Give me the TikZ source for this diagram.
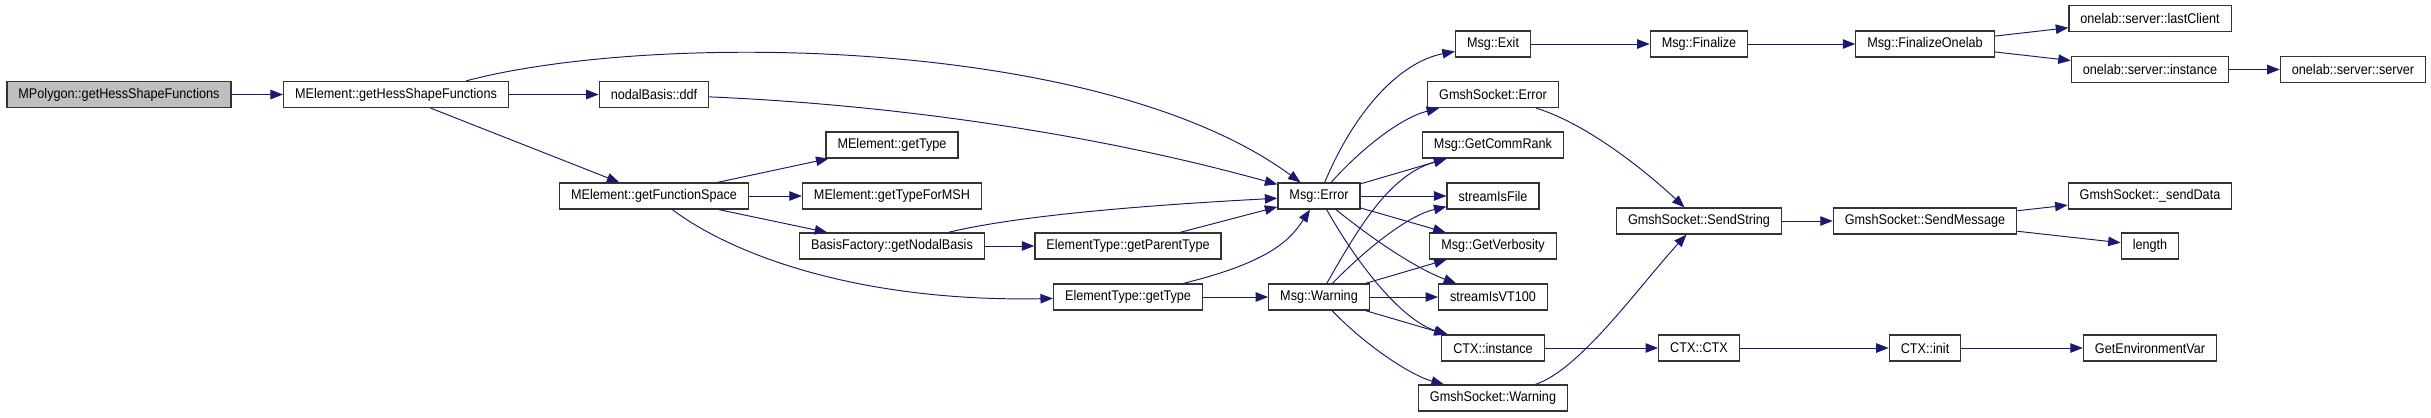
\documentclass[tikz,border=0pt]{standalone}
\usepackage{fontspec}
\newfontfamily\graphfont{Liberation Sans}[FakeStretch=0.9]
\usepackage{tikz}
\usetikzlibrary{arrows.meta}
\definecolor{edgeblue}{HTML}{191970}
\definecolor{rootgray}{HTML}{BFBFBF}

\begin{document}
\begin{tikzpicture}[
  x=0.02cm, y=-0.02cm,
  every node/.style={font=\graphfont\fontsize{8}{9}\selectfont},
  fn/.style={draw=black!80,line width=0.7pt,fill=white,minimum height=0.52cm,inner xsep=0.23cm,inner ysep=0pt},
  root/.style={fn,fill=rootgray},
  arr/.style={-{Triangle[length=0.25cm,width=0.19cm]},draw=edgeblue,line width=0.55pt}
]
  \useasboundingbox (0,0) rectangle (2431,417);

  % callers on the left
  \node[root] (poly) at (119,94.5) {MPolygon::getHessShapeFunctions};
  \node[fn] (hess) at (396,94.5) {MElement::getHessShapeFunctions};
  \node[fn] (ddf) at (654,94.5) {nodalBasis::ddf};
  \node[fn] (fspace) at (654,196) {MElement::getFunctionSpace};
  \node[fn] (mtype) at (892,145) {MElement::getType};
  \node[fn] (tmsh) at (892,196) {MElement::getTypeForMSH};
  \node[fn] (nbasis) at (892,246) {BasisFactory::getNodalBasis};
  \node[fn] (parent) at (1128,246) {ElementType::getParentType};
  \node[fn] (etype) at (1128,297) {ElementType::getType};
  \node[fn] (err) at (1319,196) {Msg::Error};
  \node[fn] (warn) at (1319,297) {Msg::Warning};

  % middle column
  \node[fn] (exit) at (1493,44) {Msg::Exit};
  \node[fn] (gserr) at (1493,94.5) {GmshSocket::Error};
  \node[fn] (rank) at (1493,145) {Msg::GetCommRank};
  \node[fn] (sfile) at (1493,196) {streamIsFile};
  \node[fn] (verb) at (1493,246) {Msg::GetVerbosity};
  \node[fn] (vt) at (1493,297) {streamIsVT100};
  \node[fn] (ctxi) at (1493,348) {CTX::instance};
  \node[fn] (gswarn) at (1493,398) {GmshSocket::Warning};

  % right part
  \node[fn] (fin) at (1699,44) {Msg::Finalize};
  \node[fn] (finone) at (1925,44) {Msg::FinalizeOnelab};
  \node[fn] (last) at (2150,18.5) {onelab::server::lastClient};
  \node[fn] (inst) at (2150,69.5) {onelab::server::instance};
  \node[fn] (server) at (2353,69.5) {onelab::server::server};
  \node[fn] (sstr) at (1699,221) {GmshSocket::SendString};
  \node[fn] (smsg) at (1925,221) {GmshSocket::SendMessage};
  \node[fn] (sdata) at (2150,196) {GmshSocket::\_sendData};
  \node[fn] (len) at (2150,246) {length};
  \node[fn] (ctx) at (1699,348) {CTX::CTX};
  \node[fn] (init) at (1925,348) {CTX::init};
  \node[fn] (genv) at (2150,348) {GetEnvironmentVar};

  \draw[arr] (poly) -- (hess);
  \draw[arr] (hess) -- (ddf);
  \draw[arr] (hess.11) .. controls (650,32) and (1100,35) .. (err);
  \draw[arr] (hess) -- (fspace);
  \draw[arr] (ddf) .. controls (900,105) and (1100,135) .. (err);
  \draw[arr] (fspace) -- (mtype);
  \draw[arr] (fspace) -- (tmsh);
  \draw[arr] (fspace) -- (nbasis);
  \draw[arr] (fspace) .. controls (740,260) and (870,302) .. (etype);
  \draw[arr] (nbasis) .. controls (1020,215) and (1150,205) .. (err);
  \draw[arr] (nbasis) -- (parent);
  \draw[arr] (parent) -- (err);
  \draw[arr] (etype) .. controls (1270,262) and (1290,240) .. (err);
  \draw[arr] (etype) -- (warn);

  \draw[arr] (err) .. controls (1355,110) and (1400,62) .. (exit);
  \draw[arr] (err) .. controls (1360,150) and (1400,118) .. (gserr);
  \draw[arr] (err) -- (rank);
  \draw[arr] (err) -- (sfile);
  \draw[arr] (err) -- (verb);
  \draw[arr] (err) .. controls (1380,245) and (1420,270) .. (vt);
  \draw[arr] (err) .. controls (1355,260) and (1400,320) .. (ctxi);
  \draw[arr] (warn) .. controls (1360,225) and (1390,175) .. (rank);
  \draw[arr] (warn) .. controls (1370,245) and (1410,215) .. (sfile);
  \draw[arr] (warn) -- (verb);
  \draw[arr] (warn) -- (vt);
  \draw[arr] (warn) -- (ctxi);
  \draw[arr] (warn) .. controls (1365,345) and (1410,375) .. (gswarn);

  \draw[arr] (exit) -- (fin);
  \draw[arr] (fin) -- (finone);
  \draw[arr] (finone) -- (last);
  \draw[arr] (finone) -- (inst);
  \draw[arr] (inst) -- (server);
  \draw[arr] (gserr) .. controls (1590,125) and (1650,175) .. (sstr);
  \draw[arr] (gswarn) .. controls (1580,370) and (1640,285) .. (sstr);
  \draw[arr] (sstr) -- (smsg);
  \draw[arr] (smsg) -- (sdata);
  \draw[arr] (smsg) -- (len);
  \draw[arr] (ctxi) -- (ctx);
  \draw[arr] (ctx) -- (init);
  \draw[arr] (init) -- (genv);
\end{tikzpicture}
\end{document}
